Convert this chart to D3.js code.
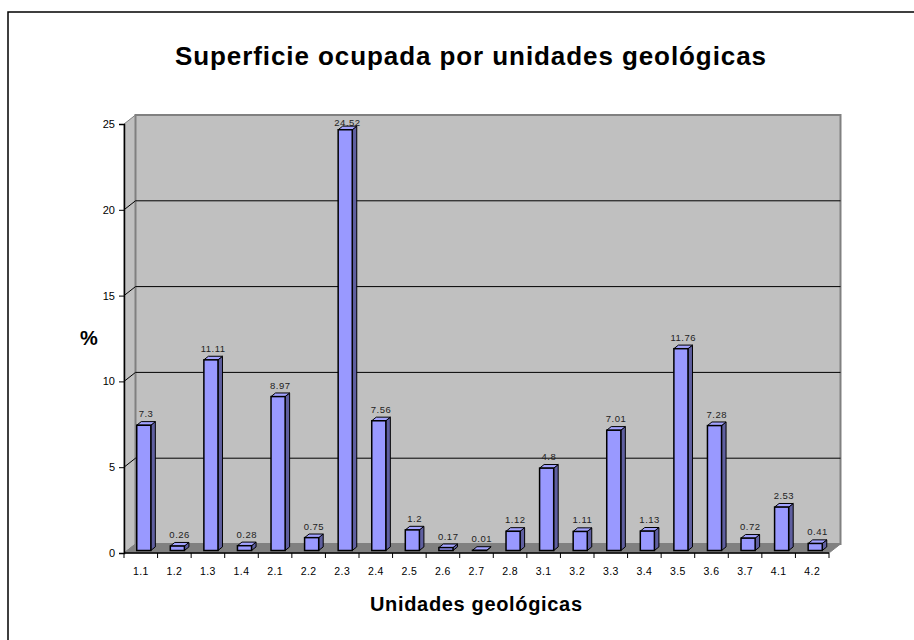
<!DOCTYPE html>
<html>
<head>
<meta charset="utf-8">
<script src="https://cdn.jsdelivr.net/npm/d3@7"></script>
<style>
  body { margin: 0; background: #fff; }
  svg text { font-family: "Liberation Sans", Arial, sans-serif; }
</style>
</head>
<body>
<svg id="chart" width="914" height="640"></svg>
<script>
// Chart data
const unidades = ['1.1', '1.2', '1.3', '1.4', '2.1', '2.2', '2.3', '2.4', '2.5', '2.6', '2.7',
    '2.8', '3.1', '3.2', '3.3', '3.4', '3.5', '3.6', '3.7', '4.1', '4.2'];
const porcentajes = [7.3, 0.26, 11.11, 0.28, 8.97, 0.75, 24.52, 7.56, 1.2, 0.17, 0.01,
    1.12, 4.8, 1.11, 7.01, 1.13, 11.76, 7.28, 0.72, 2.53, 0.41];
const yTicks = [0, 5, 10, 15, 20, 25];

const svg = d3.select('#chart');

// outer frame (only top and left edges are visible)
svg.append('rect')
    .attr('x', 8).attr('y', 12)
    .attr('width', 1000).attr('height', 1000)
    .attr('fill', 'none').attr('stroke', '#000').attr('stroke-width', 1.5);

// front plane of the 3d box
const x = d3.scaleBand().domain(unidades).range([124, 829]).paddingInner(0.58).paddingOuter(0.29);
const xEdge = d3.scaleLinear().domain([0, unidades.length]).range([124, 829]);
const y = d3.scaleLinear().domain([0, 25]).range([553, 124]);

// wall depth offset
const dx = 11.5, dy = -9;
// bar placement inside the depth and bar depth
const bx = 3, by = -2.5, bdx = 4.5, bdy = -3.6;

const x0 = xEdge.range()[0], x1 = xEdge.range()[1];
const yb = y(0), yt = y(25);

// side wall
svg.append('polygon')
    .attr('points', [[x0, yt], [x0 + dx, yt + dy], [x0 + dx, yb + dy], [x0, yb]].join(' '))
    .attr('fill', '#c0c0c0').attr('stroke', '#808080').attr('stroke-width', 1);

// back wall
svg.append('rect')
    .attr('x', x0 + dx).attr('y', yt + dy)
    .attr('width', x1 - x0).attr('height', yb - yt)
    .attr('fill', '#c0c0c0').attr('stroke', '#808080').attr('stroke-width', 2);

// floor
svg.append('polygon')
    .attr('points', [[x0, yb], [x0 + dx, yb + dy], [x1 + dx, yb + dy], [x1, yb]].join(' '))
    .attr('fill', '#808080').attr('stroke', '#808080').attr('stroke-width', 1);

// gridlines
const grid = svg.append('g').attr('stroke', '#000').attr('stroke-width', 1);
yTicks.filter(t => t > 0 && t < 25).forEach(t => {
    grid.append('line')
        .attr('x1', x0 + dx).attr('x2', x1 + dx)
        .attr('y1', y(t) + dy).attr('y2', y(t) + dy);
    grid.append('line')
        .attr('x1', x0).attr('x2', x0 + dx)
        .attr('y1', y(t)).attr('y2', y(t) + dy);
});

// y axis
const yAxis = svg.append('g')
    .attr('transform', `translate(${x0},0)`)
    .call(d3.axisLeft(y).tickValues(yTicks).tickSize(5).tickPadding(4).tickFormat(d3.format('d')));
yAxis.select('.domain').attr('stroke', '#000').attr('stroke-width', 1.5);
yAxis.selectAll('.tick line').attr('stroke', '#000');
yAxis.selectAll('.tick text')
    .attr('font-size', 11).attr('fill', '#000')
    .attr('font-family', '"Liberation Sans", Arial, sans-serif');

// x axis
const xAxis = svg.append('g')
    .attr('transform', `translate(0,${yb})`)
    .call(d3.axisBottom(x).tickSize(0).tickPadding(15));
xAxis.select('.domain').remove();
xAxis.append('line')
    .attr('x1', x0).attr('x2', x1)
    .attr('stroke', '#000').attr('stroke-width', 1.5);
xAxis.selectAll('.edge')
    .data(d3.range(unidades.length + 1))
    .join('line')
    .attr('class', 'edge')
    .attr('x1', d => xEdge(d)).attr('x2', d => xEdge(d))
    .attr('y1', 0).attr('y2', 5)
    .attr('stroke', '#000');
xAxis.selectAll('.tick text')
    .attr('font-size', 10.5).attr('fill', '#000')
    .attr('letter-spacing', 0.4)
    .attr('font-family', '"Liberation Sans", Arial, sans-serif');

// bars
const bars = svg.append('g').selectAll('g')
    .data(porcentajes)
    .join('g');

const bw = x.bandwidth();
const barLeft = (d, i) => x(unidades[i]) + bx;
const barTop = d => y(d) + by;
const barBase = y(0) + by;

// side face
bars.append('polygon')
    .attr('points', (d, i) => {
        const l = barLeft(d, i) + bw;
        return [[l, barTop(d)], [l + bdx, barTop(d) + bdy], [l + bdx, barBase + bdy], [l, barBase]].join(' ');
    })
    .attr('fill', '#5f5fa0').attr('stroke', '#000').attr('stroke-width', 1).attr('stroke-linejoin', 'round');

// top face
bars.append('polygon')
    .attr('points', (d, i) => {
        const l = barLeft(d, i);
        return [[l, barTop(d)], [l + bdx, barTop(d) + bdy], [l + bw + bdx, barTop(d) + bdy], [l + bw, barTop(d)]].join(' ');
    })
    .attr('fill', '#a3a3ff').attr('stroke', '#000').attr('stroke-width', 1).attr('stroke-linejoin', 'round');

// front face
bars.append('rect')
    .attr('x', (d, i) => barLeft(d, i))
    .attr('y', d => barTop(d))
    .attr('width', bw)
    .attr('height', d => barBase - barTop(d))
    .attr('fill', '#9999ff').attr('stroke', '#000').attr('stroke-width', 1.5);

// value labels
bars.append('text')
    .attr('x', (d, i) => barLeft(d, i) + bw / 2 + bdx / 2)
    .attr('y', d => Math.max(barTop(d) - 8, yt + 1.5))
    .attr('text-anchor', 'middle')
    .attr('font-size', 9.5)
    .attr('letter-spacing', 0.5)
    .attr('fill', '#222')
    .text(d => d);

// titles
svg.append('text')
    .attr('x', 470.5).attr('y', 65)
    .attr('text-anchor', 'middle')
    .attr('font-size', 26).attr('font-weight', 'bold')
    .attr('textLength', 591).attr('lengthAdjust', 'spacing')
    .text('Superficie ocupada por unidades geológicas');

svg.append('text')
    .attr('x', 476).attr('y', 611)
    .attr('text-anchor', 'middle')
    .attr('font-size', 20).attr('font-weight', 'bold')
    .attr('textLength', 212).attr('lengthAdjust', 'spacing')
    .text('Unidades geológicas');

svg.append('text')
    .attr('x', 89).attr('y', 345)
    .attr('text-anchor', 'middle')
    .attr('font-size', 20).attr('font-weight', 'bold')
    .text('%');
</script>
</body>
</html>
